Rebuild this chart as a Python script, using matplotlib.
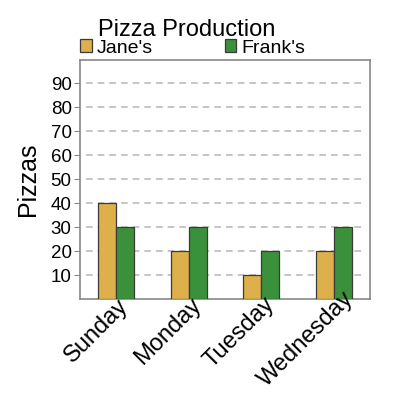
import numpy as np
import matplotlib
matplotlib.use("Agg")
from matplotlib import pyplot as plt
from matplotlib.patches import Patch
from matplotlib.transforms import ScaledTranslation
from matplotlib.font_manager import FontProperties

plt.rcParams['font.family'] = ['Liberation Sans', 'DejaVu Sans']

days = ["Sunday", "Monday", "Tuesday", "Wednesday"]
janes = [40, 20, 10, 20]
franks = [30, 30, 20, 30]
yticks = [10, 20, 30, 40, 50, 60, 70, 80, 90]

jane_col = "#DEB04B"
frank_col = "#3B913B"
edge_col = "#3a3a3a"

fig = plt.figure(figsize=(4, 4), dpi=100)
ax = fig.add_axes([0.2, 0.2525, 0.725, 0.5975])

x = np.arange(len(days))
w = 0.25
ax.bar(x - w/2, janes, w, color=jane_col, edgecolor=edge_col, linewidth=0.9, zorder=3)
ax.bar(x + w/2, franks, w, color=frank_col, edgecolor=edge_col, linewidth=0.9, zorder=3)

for v in yticks:
    ax.axhline(v, xmin=0.02, xmax=0.97, color="#bbbbbb", linestyle=(0, (4, 3)), linewidth=1.2, zorder=1)

ax.set_xlim(-0.5, 3.5)
ax.set_ylim(0, 99.6)
ax.set_yticks(yticks)
ax.set_yticklabels([str(v) for v in yticks], fontsize=13.5)
ax.set_xticks(x)
ax.set_xticklabels([])
ax.tick_params(axis="x", length=0)
ax.tick_params(axis="y", length=4, color="#888888", pad=2)
for s in ax.spines.values():
    s.set_color("#888888")
    s.set_linewidth(1.2)
ax.set_ylabel("Pizzas", fontsize=18, labelpad=8)

# rotated day labels, anchored about a quarter of the way in from their end
fig.canvas.draw()
renderer = fig.canvas.get_renderer()
prop = FontProperties(family=['Liberation Sans', 'DejaVu Sans'], size=17)
for i, d in enumerate(days):
    L, _, _ = renderer.get_text_width_height_descent(d, prop, ismath=False)
    dx = -5.5 + 0.177 * L
    dy = -18 + 0.177 * L
    tr = ax.get_xaxis_transform() + ScaledTranslation(dx / 100, dy / 100, fig.dpi_scale_trans)
    ax.text(x[i], 0, d, transform=tr, rotation=45, ha="right", va="center",
            rotation_mode="anchor", fontproperties=prop, clip_on=False)

fig.text(0.466, 0.925, "Pizza Production", ha="center", va="center", fontsize=17)
handles = [Patch(facecolor=jane_col, edgecolor=edge_col, linewidth=0.9, label="Jane's"),
           Patch(facecolor=frank_col, edgecolor=edge_col, linewidth=0.9, label="Frank's")]
fig.legend(handles=handles, loc="center left", bbox_to_anchor=(0.2, 0.88), ncol=2, frameon=False,
           fontsize=14, handlelength=0.6, handleheight=0.6, handletextpad=0.25, columnspacing=3.7,
           borderaxespad=0, borderpad=0)

fig.savefig("out.png", dpi=100)
